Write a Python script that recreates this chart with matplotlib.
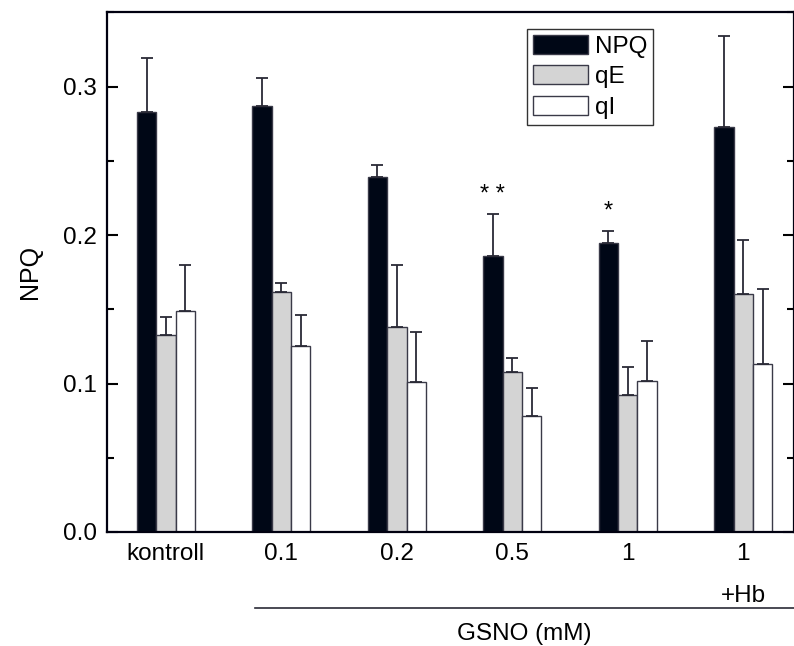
import numpy as np
import matplotlib
matplotlib.use('Agg')
from matplotlib import pyplot as plt
from matplotlib.ticker import MultipleLocator

plt.rcParams['font.family'] = ['Liberation Sans', 'DejaVu Sans']

# data
groups = ['kontroll', '0.1', '0.2', '0.5', '1', '1']
npq = [0.283, 0.287, 0.239, 0.186, 0.195, 0.273]
npq_err = [0.036, 0.019, 0.008, 0.028, 0.008, 0.061]
qe = [0.133, 0.162, 0.138, 0.108, 0.092, 0.160]
qe_err = [0.012, 0.006, 0.042, 0.009, 0.019, 0.037]
qi = [0.149, 0.125, 0.101, 0.078, 0.102, 0.113]
qi_err = [0.031, 0.021, 0.034, 0.019, 0.027, 0.051]
stars = {3: '* *', 4: '*'}

x = np.arange(len(groups))
w = 0.168
fs = 17.5

fig = plt.figure(figsize=(7.94, 6.46), dpi=100)
ax = fig.add_axes([0.1348, 0.1765, 0.8652, 0.8042])

edge = '#3a3a48'
errkw = dict(ecolor='#2a2a36', elinewidth=1.3, capsize=4, capthick=1.3)
ax.bar(x - w, npq, w, yerr=[np.zeros(6), npq_err], color='#000716', edgecolor=edge,
       linewidth=1, label='NPQ', error_kw=errkw)
ax.bar(x, qe, w, yerr=[np.zeros(6), qe_err], color='#d4d4d4', edgecolor=edge,
       linewidth=1, label='qE', error_kw=errkw)
ax.bar(x + w, qi, w, yerr=[np.zeros(6), qi_err], color='white', edgecolor=edge,
       linewidth=1, label='qI', error_kw=errkw)

for i, s in stars.items():
    ax.text(x[i] - w, npq[i] + npq_err[i] + 0.013, s, ha='center', va='center', fontsize=17)

ax.set_xlim(-0.51, 5.44)
ax.set_ylim(0, 0.35)
ax.set_xticks(x)
ax.set_xticklabels(groups, fontsize=fs)
ax.tick_params(axis='x', length=0, pad=8)
ax.yaxis.set_major_locator(MultipleLocator(0.1))
ax.yaxis.set_minor_locator(MultipleLocator(0.05))
ax.yaxis.set_major_formatter(plt.FormatStrFormatter('%.1f'))
ax.tick_params(axis='y', which='major', direction='in', length=8, width=1.5,
               labelsize=fs, right=True, pad=7)
ax.tick_params(axis='y', which='minor', direction='in', length=5, width=1.5, right=True)
for sp in ax.spines.values():
    sp.set_linewidth(1.6)
    sp.set_color('#000010')

ax.set_ylabel('NPQ', fontsize=18, labelpad=15)

ax.text(5, -0.0472, '+Hb', ha='center', va='baseline', fontsize=fs)
ax.plot([0.215, 1.0], [-0.146, -0.146], transform=ax.transAxes, color='#2a2a36',
        linewidth=1.2, clip_on=False)
ax.text(0.607, -0.197, 'GSNO (mM)', ha='center', va='center', fontsize=fs,
        transform=ax.transAxes)

leg = ax.legend(loc='upper left', bbox_to_anchor=(0.611, 0.968), borderaxespad=0,
                fontsize=fs, handlelength=2.25, handleheight=0.83, labelspacing=0.3,
                handletextpad=0.3, borderpad=0.25, fancybox=False, framealpha=1)
leg.get_frame().set_edgecolor('#333333')
leg.get_frame().set_linewidth(1)

fig.savefig('out.png', dpi=100)
